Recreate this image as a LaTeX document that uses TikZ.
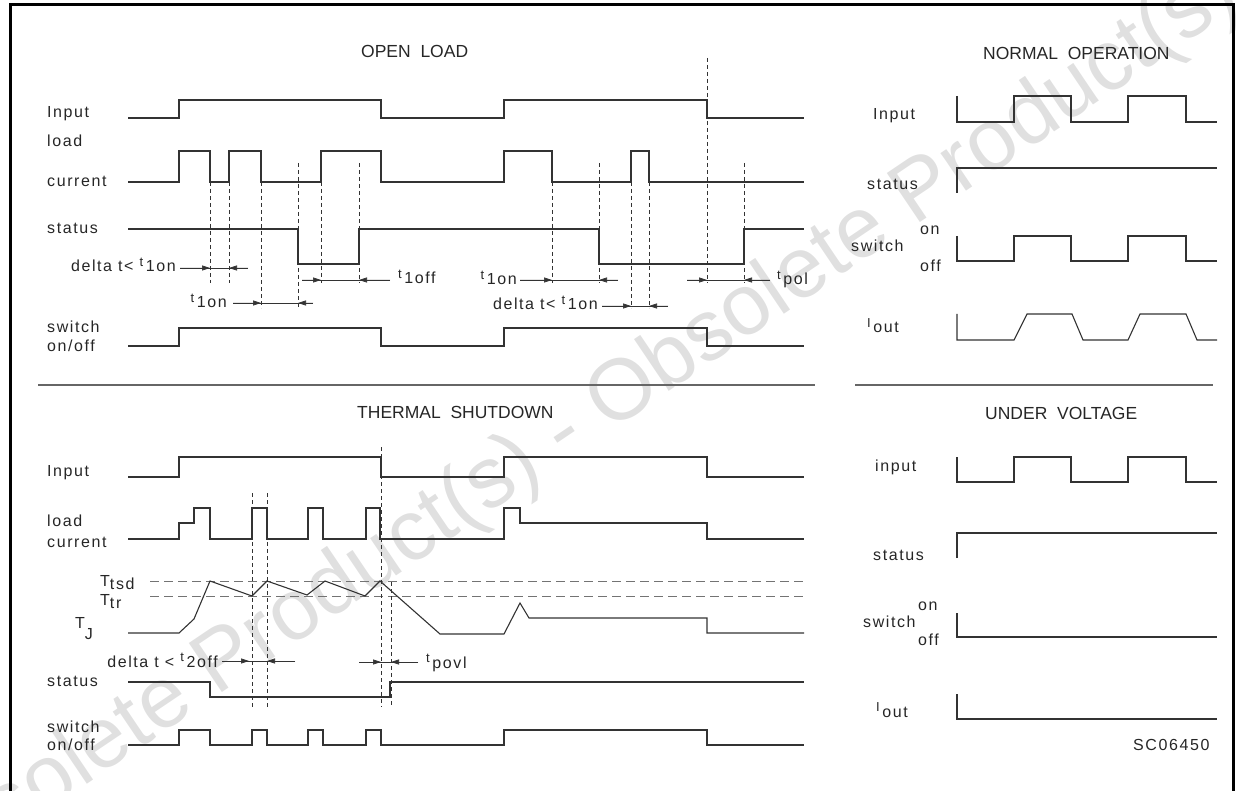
\documentclass[tikz,border=0pt]{standalone}
\usepackage{fontspec}
\setmainfont{Liberation Sans}
\newfontfamily\labelfont[LetterSpace=10]{Liberation Sans}
\newfontfamily\headfont{Liberation Sans}
\usetikzlibrary{arrows.meta}
\newcommand{\leadidx}[2]{\raisebox{0.32em}{\fontsize{13}{13}\selectfont #1}\,#2}
\newcommand{\lowidx}[2]{#1\raisebox{-0.22em}{#2}}
\tikzset{
  signal/.style={line width=1.1pt,draw=black!80,line join=miter},
  marker/.style={line width=0.6pt,draw=black!80,dash pattern=on 4pt off 3pt},
  threshold/.style={line width=0.6pt,draw=black!55,dash pattern=on 9pt off 5pt},
  dim line/.style={line width=0.7pt,draw=black!80},
  dim tip/.style={-{Triangle[length=8pt,width=5pt]},line width=0.7pt,draw=black!80,fill=black!80},
  sig label/.style={anchor=base west,inner sep=0pt,font=\labelfont\fontsize{16}{18}\selectfont,text=black!85},
  dim label/.style={inner sep=0pt,font=\labelfont\fontsize{16}{18}\selectfont,text=black!85},
  head label/.style={anchor=base west,inner sep=0pt,font=\headfont\fontsize{17.5}{20}\selectfont,text=black!85},
  frame line/.style={line width=3pt,draw=black},
  section line/.style={line width=1.2pt,draw=black!60},
  watermark/.style={inner sep=0pt,font=\headfont\fontsize{86}{86}\selectfont,text=black!12,rotate=34}
}
\begin{document}
\begin{tikzpicture}[x=1pt,y=-1pt]
  \useasboundingbox (0,0) rectangle (1236,791);
  \node[watermark] (stamp) at (565,435) {Obsolete Product(s) - Obsolete Product(s)};
  \draw[frame line] (10,791) -- (10,5) -- (1233,5) -- (1233,791);
  \draw[section line] (38,385) -- (815,385);
  \draw[section line] (855,385) -- (1213,385);

  % open load
  \node[head label] (olTitle) at (361,58) {OPEN\ \ LOAD};
  \node[sig label] (olInput) at (47,118) {Input};
  \node[sig label] (olLoad) at (47,147) {load};
  \node[sig label] (olCurrent) at (47,187) {current};
  \node[sig label] (olStatus) at (47,234) {status};
  \node[sig label] (olSwitch) at (47,333) {switch};
  \node[sig label] (olOnOff) at (47,352) {on/off};
  \draw[signal] (128,118) -| (179,100) -| (381,118) -| (504,100) -| (707,118) -- (804,118);
  \draw[signal] (128,182) -| (179,151) -| (210,182) -| (229,151) -| (261,182) -| (321,151)
    -| (381,182) -| (504,151) -| (552,182) -| (631,151) -| (649,182) -- (804,182);
  \draw[signal] (128,229) -| (298,264) -| (359,229) -| (599,264) -| (744,229) -- (804,229);
  \draw[signal] (128,346) -| (179,328) -| (381,346) -| (504,328) -| (707,346) -- (804,346);
  \foreach \x/\ya/\yb in {210/182/283,229/182/283,261/182/308,298/163/308,321/182/283,359/163/283,
    552/182/283,599/163/283,631/182/308,649/182/308,707/58/283,744/163/283}
    \draw[marker] (\x,\ya) -- (\x,\yb);
  \node[dim label,anchor=base east] (olDelta) at (176,272) {delta t< \leadidx{t}{1on}};
  \node[dim label,anchor=base east] (olOnA) at (227,308) {\leadidx{t}{1on}};
  \node[dim label,anchor=base west] (olOff) at (398,284) {\leadidx{t}{1off}};
  \node[dim label,anchor=base east] (olOnB) at (517,285) {\leadidx{t}{1on}};
  \node[dim label,anchor=base east] (olDeltaB) at (598,310) {delta t< \leadidx{t}{1on}};
  \node[dim label,anchor=base west] (olPol) at (777,285) {\leadidx{t}{pol}};

  % thermal shutdown
  \node[head label] (tsTitle) at (357,418) {THERMAL\ \ SHUTDOWN};
  \node[sig label] (tsInput) at (47,476) {Input};
  \node[sig label] (tsLoad) at (47,526) {load};
  \node[sig label] (tsCurrent) at (47,547) {current};
  \node[sig label] (tsTsd) at (100,586) {\lowidx{T}{tsd}};
  \node[sig label] (tsTtr) at (100,605) {\lowidx{T}{tr}};
  \node[sig label] (tsTj) at (75,628) {T\raisebox{-0.7em}{J}};
  \node[sig label] (tsStatus) at (47,686) {status};
  \node[sig label] (tsSwitch) at (47,732) {switch};
  \node[sig label] (tsOnOff) at (47,750) {on/off};
  \draw[threshold] (150,581) -- (805,581);
  \draw[threshold] (150,596) -- (805,596);
  \draw[signal] (128,477) -| (179,457) -| (381,477) -| (504,457) -| (707,477) -- (804,477);
  \draw[signal] (128,539) -| (179,523) -| (194,508) -| (210,539) -| (252,508) -| (267,539)
    -| (308,508) -| (323,539) -| (366,508) -| (380,539) -| (504,508) -| (520,523) -| (707,539) -- (804,539);
  \draw[signal] (128,633) -- (179,633) -- (194,619) -- (210,581) -- (252,596) -- (267,581)
    -- (307,595) -- (325,581) -- (365,596) -- (380,581) -- (440,634) -- (504,634)
    -- (520,603) -- (529,618) -- (707,618) -- (707,633) -- (804,633);
  \draw[signal] (128,682) -| (210,697) -| (390,682) -- (804,682);
  \draw[signal] (128,745) -| (179,730) -| (210,745) -| (252,730) -| (267,745) -| (308,730)
    -| (323,745) -| (366,730) -| (381,745) -| (504,730) -| (707,745) -- (804,745);
  \foreach \x/\ya/\yb in {252/493/707,267/493/707,381/447/707,391/582/707}
    \draw[marker] (\x,\ya) -- (\x,\yb);
  \node[dim label,anchor=base east] (tsDelta) at (218,667) {delta t < \leadidx{t}{2off}};
  \node[dim label,anchor=base west] (tsPovl) at (426,668) {\leadidx{t}{povl}};

  % measuring arrows
  \foreach \xa/\xl/\xr/\xb/\y in {180/210/229/248/268,233/261/298/313/303,302/321/359/390/280,
    520/552/599/618/280,602/631/649/668/306,687/707/744/770/280,222/249/267/295/661,359/381/391/418/662}{
    \draw[dim line] (\xa,\y) -- (\xb,\y);
    \draw[dim tip] (\xa,\y) -- (\xl,\y);
    \draw[dim tip] (\xb,\y) -- (\xr,\y);
  }

  % normal operation
  \node[head label] (noTitle) at (983,60) {NORMAL\ \ OPERATION};
  \node[sig label] (noInput) at (873,120) {Input};
  \node[sig label] (noStatus) at (867,190) {status};
  \node[sig label] (noSwitch) at (851,252) {switch};
  \node[sig label] (noOn) at (920,235) {on};
  \node[sig label] (noOff) at (920,272) {off};
  \node[sig label] (noIout) at (867,333) {\leadidx{I}{out}};
  \draw[signal] (957,96) |- (1014,122) |- (1071,96) |- (1128,122) |- (1186,96) |- (1217,122);
  \draw[signal] (957,193) |- (1217,168);
  \draw[signal] (957,236) |- (1014,261) |- (1071,236) |- (1128,261) |- (1186,236) |- (1217,261);
  \draw[signal] (957,314) -- (957,340) -- (1014,340) -- (1027,314) -- (1072,314) -- (1083,340)
    -- (1128,340) -- (1140,314) -- (1186,314) -- (1197,340) -- (1217,340);

  % under voltage
  \node[head label] (uvTitle) at (985,419) {UNDER\ \ VOLTAGE};
  \node[sig label] (uvInput) at (875,471) {input};
  \node[sig label] (uvStatus) at (873,560) {status};
  \node[sig label] (uvSwitch) at (863,627) {switch};
  \node[sig label] (uvOn) at (918,610) {on};
  \node[sig label] (uvOff) at (918,645) {off};
  \node[sig label] (uvIout) at (876,717) {\leadidx{I}{out}};
  \node[sig label] (uvCode) at (1133,750) {SC06450};
  \draw[signal] (957,457) |- (1014,482) |- (1071,457) |- (1128,482) |- (1186,457) |- (1217,482);
  \draw[signal] (957,558) |- (1217,533);
  \draw[signal] (957,613) |- (1217,637);
  \draw[signal] (957,694) |- (1217,719);
\end{tikzpicture}
\end{document}
